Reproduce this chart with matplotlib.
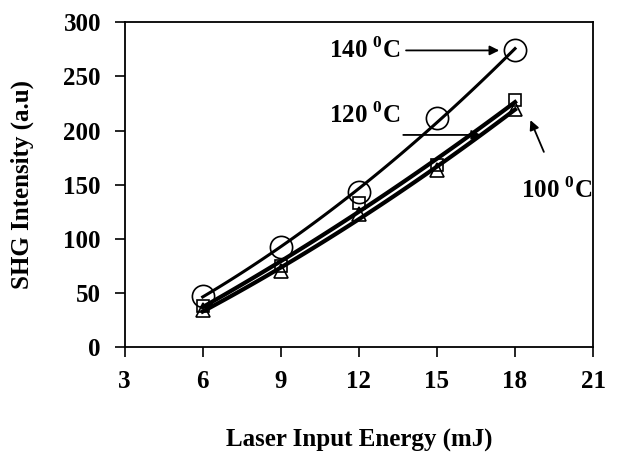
import matplotlib.pyplot as plt
import numpy as np

plt.rcParams['font.family'] = ['Liberation Serif', 'DejaVu Serif']
plt.rcParams['font.weight'] = 'bold'
plt.rcParams['mathtext.fontset'] = 'custom'
plt.rcParams['mathtext.rm'] = 'Liberation Serif:bold'
plt.rcParams['mathtext.bf'] = 'Liberation Serif:bold'

energy = [6, 9, 12, 15, 18]
shg_140 = [47, 93, 143, 212, 274]
shg_120 = [38, 75, 133, 168, 228]
shg_100 = [34, 70, 123, 164, 220]

fig = plt.figure(figsize=(6.23, 4.54), dpi=100)
ax = fig.add_axes([0.2, 0.235, 0.752, 0.716])

# smoothed trend lines (quadratic fit, like the spreadsheet trendline) plus markers
xs = np.linspace(energy[0], energy[-1], 100)
for ys, mk, ms, lw in [(shg_140, 'o', 16, 2.2), (shg_120, 's', 9, 3.0), (shg_100, '^', 10, 3.0)]:
    c = np.polyfit(energy, ys, 2)
    ax.plot(xs, np.polyval(c, xs), color='black', lw=lw)
    ax.plot(energy, ys, ls='none', marker=mk, ms=ms, mfc='none', mec='black', mew=1.2)

ax.set_xlim(3, 21)
ax.set_ylim(0, 300)
ax.set_xticks([3, 6, 9, 12, 15, 18, 21])
ax.set_yticks([0, 50, 100, 150, 200, 250, 300])
ax.tick_params(direction='out', length=7, width=1.2, labelsize=18)
ax.tick_params(axis='x', pad=9)
ax.tick_params(axis='y', pad=10)
for s in ax.spines.values():
    s.set_linewidth(1.3)

ax.set_xlabel('Laser Input Energy (mJ)', fontsize=18, fontweight='bold', labelpad=26)
ax.set_ylabel('SHG Intensity (a.u)', fontsize=18, fontweight='bold', labelpad=21)

arr = dict(arrowstyle='-|>', color='black', lw=1.3, mutation_scale=14)
ax.annotate('140 $^{0}$C', xy=(17.5, 274), xytext=(13.6, 274),
            fontsize=18, fontweight='bold', ha='right', va='center', arrowprops=arr)
ax.annotate('', xy=(16.8, 196), xytext=(13.6, 196), arrowprops=arr)
ax.text(13.6, 214, '120 $^{0}$C', fontsize=18, fontweight='bold', ha='right', va='center')
ax.annotate('', xy=(18.55, 212), xytext=(19.15, 178), arrowprops=arr)
ax.text(19.6, 145, '100 $^{0}$C', fontsize=18, fontweight='bold', ha='center', va='center')

fig.savefig('out.png', dpi=100)
